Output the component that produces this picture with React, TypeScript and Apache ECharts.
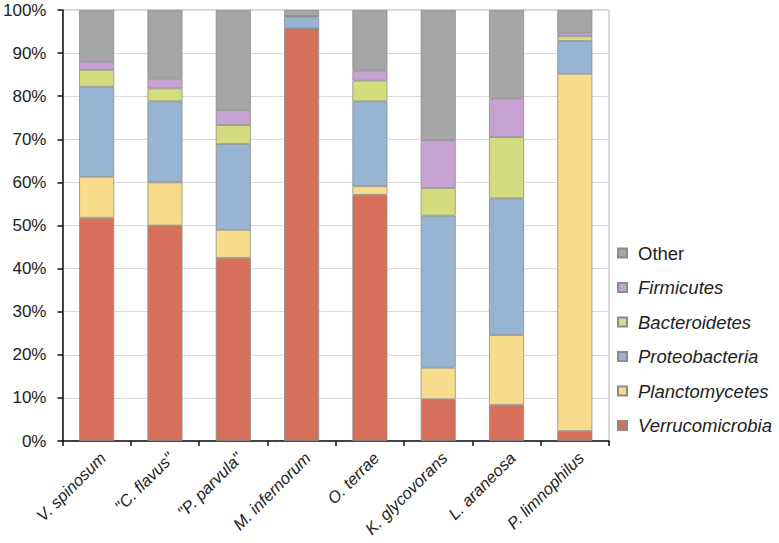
import React, { useEffect, useRef } from "react";
import * as echarts from "echarts";

const categories = [
  "V. spinosum",
  "\"C. flavus\"",
  "\"P. parvula\"",
  "M. infernorum",
  "O. terrae",
  "K. glycovorans",
  "L. araneosa",
  "P. limnophilus",
];

const verrucomicrobia = [51.8, 50.0, 42.5, 95.7, 57.1, 9.7, 8.4, 2.3];
const planctomycetes = [9.5, 10.0, 6.5, 0, 2.0, 7.3, 16.2, 82.9];
const proteobacteria = [20.9, 18.8, 19.9, 2.6, 19.7, 35.3, 31.7, 7.6];
const bacteroidetes = [3.9, 3.0, 4.4, 0.3, 4.8, 6.4, 14.2, 1.1];
const firmicutes = [1.9, 2.3, 3.5, 0, 2.3, 11.1, 8.9, 0.8];
const other = [12.0, 15.9, 23.2, 1.4, 14.1, 30.2, 20.6, 5.3];

const seriesNames = [
  "Verrucomicrobia",
  "Planctomycetes",
  "Proteobacteria",
  "Bacteroidetes",
  "Firmicutes",
  "Other",
];
const seriesValues = [verrucomicrobia, planctomycetes, proteobacteria, bacteroidetes, firmicutes, other];
const seriesColors = ["#D6705A", "#F7DC8B", "#97B5D2", "#D4DD7D", "#C6A2D3", "#A6A6A6"];

const FONT = "'Liberation Sans', Arial, sans-serif";

export default function App() {
  const ref = useRef<HTMLDivElement>(null);
  useEffect(() => {
    if (!ref.current) return;
    const chart = echarts.init(ref.current, undefined, { renderer: "svg" });
    chart.setOption({
      animation: false,
      backgroundColor: "#ffffff",
      grid: {
        left: 58,
        right: 170,
        top: 10,
        bottom: 102,
        show: true,
        borderColor: "#b0b0b0",
        borderWidth: 1,
      },
      legend: {
        orient: "vertical",
        left: 612,
        top: 238,
        itemWidth: 9,
        itemHeight: 9,
        itemGap: 14.5,
        icon: "rect",
        data: seriesNames
          .slice()
          .reverse()
          .map((n) => ({
            name: n,
            textStyle: { fontStyle: n === "Other" ? "normal" : "italic" },
          })),
        textStyle: {
          fontFamily: FONT,
          fontSize: 18.5,
          color: "#222",
          lineHeight: 20,
          padding: [0, 0, 0, 6],
        },
      },
      xAxis: {
        type: "category",
        data: categories,
        axisLine: { lineStyle: { color: "#111", width: 1.5 } },
        axisTick: { show: true, length: 5, lineStyle: { color: "#111", width: 1.5 } },
        axisLabel: {
          rotate: 45,
          interval: 0,
          margin: 8,
          verticalAlign: "top",
          fontFamily: FONT,
          fontStyle: "italic",
          fontSize: 16.5,
          color: "#222",
        },
        splitLine: { show: false },
      },
      yAxis: {
        type: "value",
        min: 0,
        max: 100,
        interval: 10,
        axisLine: { show: true, lineStyle: { color: "#111", width: 1.5 } },
        axisTick: { show: true, length: 5, lineStyle: { color: "#111", width: 1.5 } },
        axisLabel: {
          formatter: "{value}%",
          fontFamily: FONT,
          fontSize: 17,
          color: "#222",
          margin: 16,
        },
        splitLine: { show: true, lineStyle: { color: "#d9d9d9", width: 1 } },
      },
      series: seriesNames.map((name, i) => ({
        name,
        type: "bar",
        stack: "total",
        barWidth: 35,
        data: seriesValues[i],
        itemStyle: {
          color: seriesColors[i],
          borderColor: "#8c8c8c",
          borderWidth: 0.8,
        },
      })),
    });
    return () => chart.dispose();
  }, []);
  return (
    <div
      ref={ref}
      style={{ position: "fixed", left: 0, top: 0, width: 779, height: 543 }}
    />
  );
}
